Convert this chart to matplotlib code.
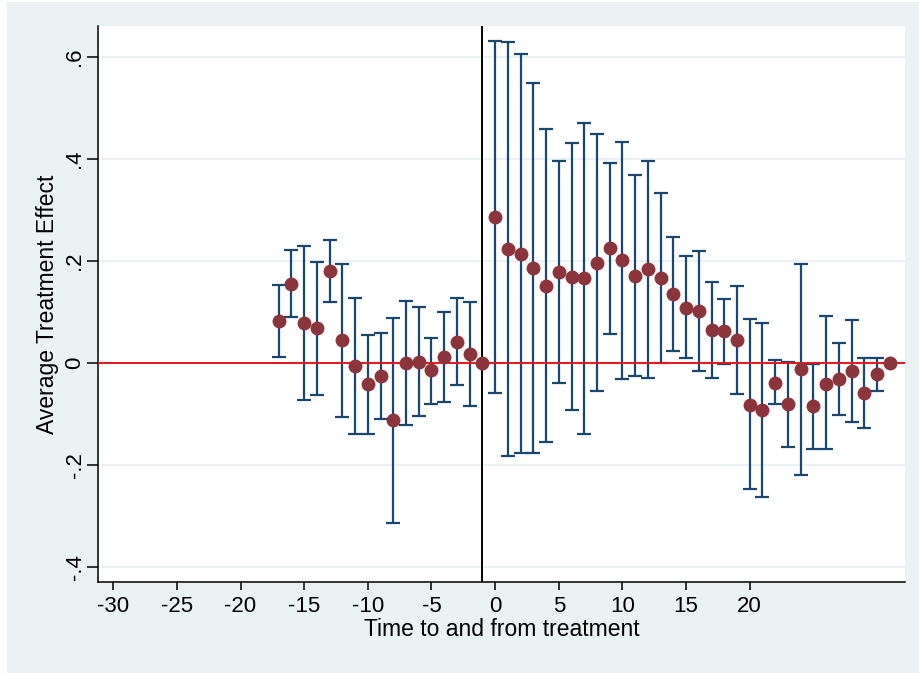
import numpy as np
import matplotlib
matplotlib.use("Agg")
import matplotlib.pyplot as plt
from matplotlib.patches import Rectangle

plt.rcParams["font.family"] = ["Liberation Sans", "DejaVu Sans"]
plt.rcParams["axes.unicode_minus"] = False

# event time, point estimate, 95% CI
event_time = list(range(-17, 32))
estimate = [
    0.083, 0.156, 0.078, 0.068, 0.181, 0.045, -0.005, -0.041, -0.025, -0.112,
    0.001, 0.003, -0.014, 0.012, 0.042, 0.017, 0.000,
    0.287, 0.223, 0.215, 0.186, 0.152, 0.179, 0.169, 0.166, 0.197, 0.225,
    0.202, 0.171, 0.184, 0.166, 0.136, 0.109, 0.103, 0.065, 0.063, 0.045,
    -0.082, -0.092, -0.038, -0.080, -0.012, -0.084, -0.040, -0.032, -0.016,
    -0.058, -0.022, 0.000,
]
ci_upper = [
    0.153, 0.222, 0.229, 0.199, 0.242, 0.195, 0.127, 0.056, 0.059, 0.089,
    0.122, 0.110, 0.050, 0.101, 0.127, 0.120, np.nan,
    0.632, 0.630, 0.607, 0.550, 0.459, 0.397, 0.431, 0.470, 0.450, 0.393,
    0.434, 0.369, 0.397, 0.333, 0.248, 0.210, 0.220, 0.159, 0.126, 0.151,
    0.086, 0.079, 0.006, 0.003, 0.195, -0.002, 0.092, 0.039, 0.084,
    0.010, 0.010, np.nan,
]
ci_lower = [
    0.012, 0.090, -0.073, -0.063, 0.120, -0.105, -0.139, -0.138, -0.110, -0.313,
    -0.121, -0.103, -0.080, -0.076, -0.042, -0.083, np.nan,
    -0.059, -0.182, -0.177, -0.176, -0.155, -0.038, -0.091, -0.138, -0.055, 0.058,
    -0.031, -0.025, -0.030, 0.001, 0.023, 0.010, -0.016, -0.030, -0.002, -0.061,
    -0.247, -0.263, -0.080, -0.164, -0.220, -0.168, -0.169, -0.101, -0.116,
    -0.127, -0.054, np.nan,
]

x_ticks = [-30, -25, -20, -15, -10, -5, 0, 5, 10, 15, 20]
y_ticks = [-0.4, -0.2, 0, 0.2, 0.4, 0.6]
y_ticklabels = ["-.4", "-.2", "0", ".2", ".4", ".6"]
treatment_line = -1

W, H = 919, 673
fig = plt.figure(figsize=(W / 100, H / 100), dpi=100)
fig.patch.set_facecolor("white")
fig.patches.append(Rectangle((7 / W, 0), 1 - 7 / W, 1 - 2 / H,
                             transform=fig.transFigure,
                             facecolor="#eaf2f3", edgecolor="none", zorder=-10))

ax = fig.add_axes([98 / W, 1 - 582 / H, (905 - 98) / W, (582 - 26) / H])
ax.set_facecolor("white")

x = np.array(event_time, dtype=float)
est = np.array(estimate)
lo = np.array(ci_lower)
hi = np.array(ci_upper)
ok = np.isfinite(lo) & np.isfinite(hi)

ax.errorbar(x[ok], est[ok], yerr=[est[ok] - lo[ok], hi[ok] - est[ok]],
            fmt="none", ecolor="#1a476f", elinewidth=1.6, capsize=5,
            capthick=1.6, zorder=2)
ax.axhline(0, color="#e8141b", lw=1.4, zorder=3)
ax.axvline(treatment_line, color="black", lw=1.4, zorder=3)
ax.plot(x, est, "o", color="#8b343c", markersize=10, markeredgewidth=0, zorder=4)

ax.set_xlim(-31.2, 32.2)
ax.set_ylim(-0.429, 0.661)
ax.set_xticks(x_ticks)
ax.set_yticks(y_ticks)
ax.set_yticklabels(y_ticklabels, rotation=90, va="center")
ax.yaxis.grid(True, color="#eaf2f3", lw=1.4)
ax.set_axisbelow(True)

for s in ["top", "right"]:
    ax.spines[s].set_visible(False)
for s in ["left", "bottom"]:
    ax.spines[s].set_color("black")
    ax.spines[s].set_linewidth(1.1)

ax.tick_params(axis="both", direction="out", width=1.1,
               labelsize=16, colors="black")
ax.tick_params(axis="x", length=6, pad=4)
ax.tick_params(axis="y", length=8, pad=1)

ax.set_xlabel("Time to and from treatment", fontsize=16.5, labelpad=1)
ax.set_ylabel("Average Treatment Effect", fontsize=16.5, labelpad=4)

fig.savefig("out.png", dpi=100, facecolor=fig.get_facecolor())
